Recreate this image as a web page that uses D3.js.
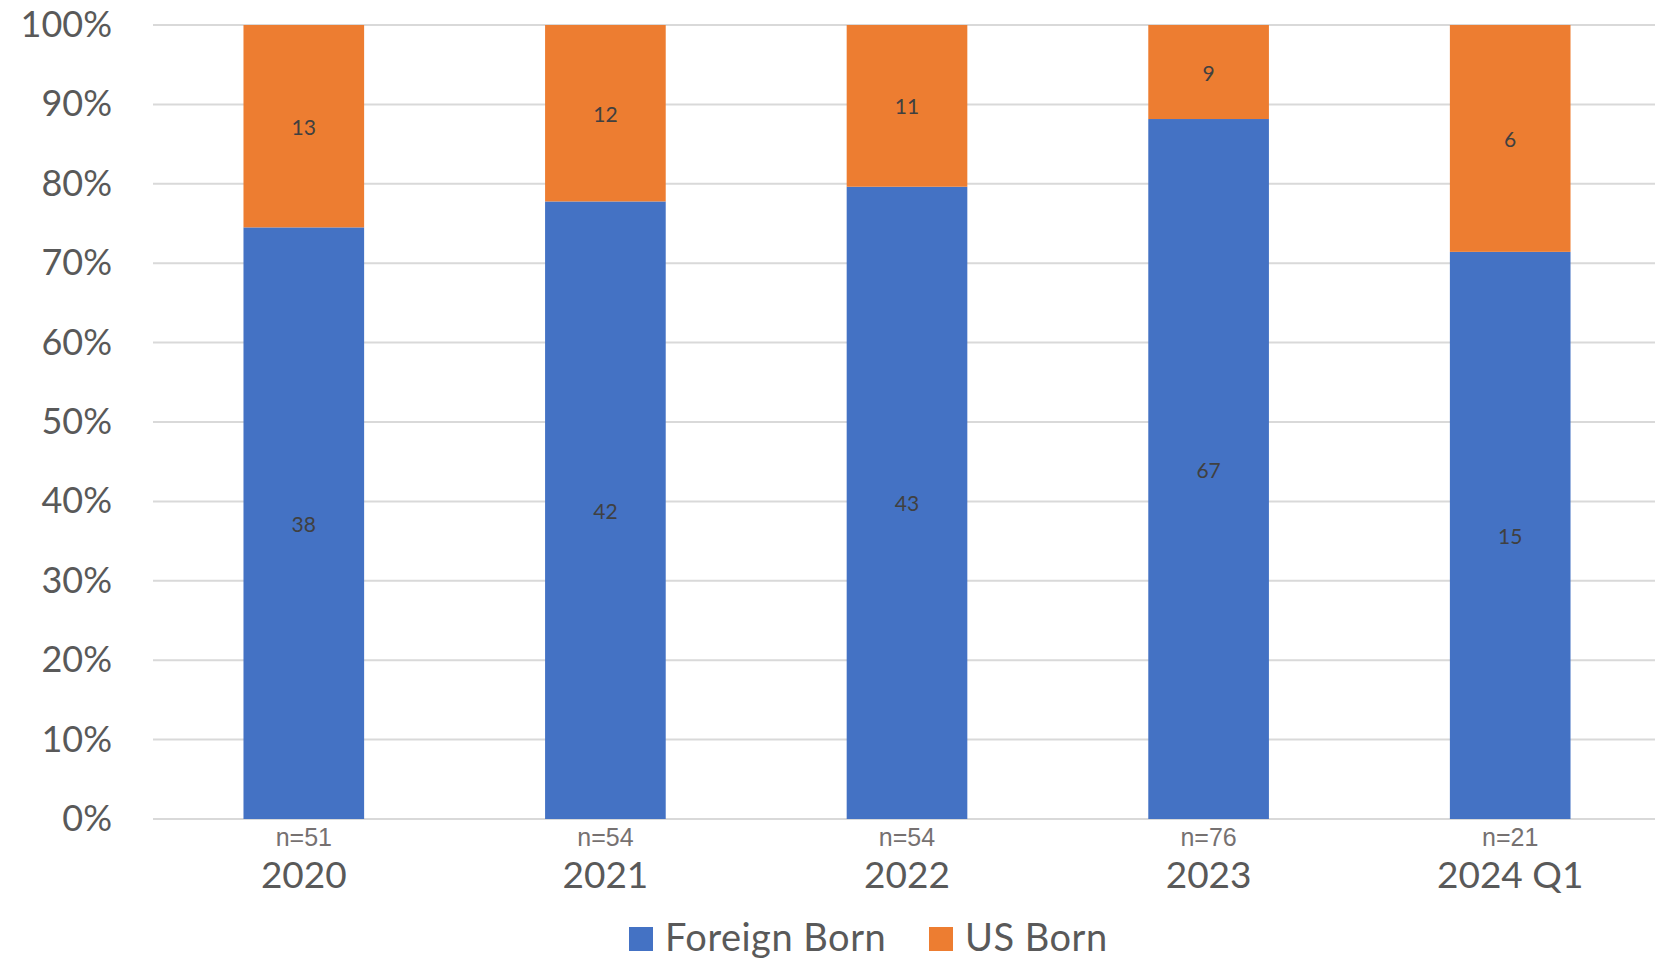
<!DOCTYPE html>
<html>
<head>
<meta charset="utf-8">
<script src="https://cdn.jsdelivr.net/npm/d3@7"></script>
<style>
  html, body { margin: 0; padding: 0; background: #fff; }
  svg { display: block; }
</style>
</head>
<body>
<svg id="chart" width="1655" height="961"></svg>
<script>
const categories = ["2020", "2021", "2022", "2023", "2024 Q1"];
const foreignBorn = [38, 42, 43, 67, 15];
const usBorn = [13, 12, 11, 9, 6];
const sampleLabels = ["n=51", "n=54", "n=54", "n=76", "n=21"];
const yTicks = [0, 0.1, 0.2, 0.3, 0.4, 0.5, 0.6, 0.7, 0.8, 0.9, 1.0];
const seriesNames = ["Foreign Born", "US Born"];
const colors = ["#4472C4", "#ED7D31"];

const svg = d3.select("#chart");
const font = "Lato, 'Open Sans', sans-serif";

const x = d3.scaleBand().domain(categories).range([153, 1661]).paddingInner(0.6).paddingOuter(0.3);
const y = d3.scaleLinear().domain([0, 1]).range([819, 25]);

// gridlines
svg.append("g").selectAll("line").data(yTicks).join("line")
  .attr("x1", 153).attr("x2", 1655)
  .attr("y1", d => y(d)).attr("y2", d => y(d))
  .attr("stroke", "#d9d9d9").attr("stroke-width", 2);

// y axis labels
const yAxis = d3.axisLeft(y).tickValues(yTicks).tickFormat(d3.format(".0%")).tickSize(0).tickPadding(0);
const yg = svg.append("g").attr("transform", "translate(112,0)").call(yAxis);
yg.select(".domain").remove();
yg.selectAll("text").attr("font-family", font).attr("font-size", 36).attr("fill", "#595959");

// stacked data
const rows = categories.map((c, i) => ({cat: c, fb: foreignBorn[i], us: usBorn[i]}));
const stack = d3.stack().keys(["fb", "us"]).offset(d3.stackOffsetExpand);
const series = stack(rows);

series.forEach((s, si) => {
  const g = svg.append("g");
  g.selectAll("rect").data(s).join("rect")
    .attr("x", d => x(d.data.cat))
    .attr("width", x.bandwidth())
    .attr("y", d => y(d[1]))
    .attr("height", d => y(d[0]) - y(d[1]))
    .attr("fill", colors[si]);
  g.selectAll("text").data(s).join("text")
    .attr("x", d => x(d.data.cat) + x.bandwidth() / 2)
    .attr("y", d => (y(d[0]) + y(d[1])) / 2)
    .attr("text-anchor", "middle").attr("dominant-baseline", "central")
    .attr("font-family", font).attr("font-size", 21).attr("fill", "#404040")
    .text(d => si === 0 ? d.data.fb : d.data.us);
});

// x labels
const xg = svg.append("g");
xg.selectAll("text.n").data(categories).join("text").attr("class", "n")
  .attr("x", d => x(d) + x.bandwidth() / 2).attr("y", 846)
  .attr("text-anchor", "middle")
  .attr("font-family", "'Liberation Sans', Arial, sans-serif").attr("font-size", 25)
  .attr("fill", "#767171")
  .text((d, i) => sampleLabels[i]);
xg.selectAll("text.cat").data(categories).join("text").attr("class", "cat")
  .attr("x", d => x(d) + x.bandwidth() / 2).attr("y", 888)
  .attr("text-anchor", "middle")
  .attr("font-family", font).attr("font-size", 37)
  .attr("fill", "#595959")
  .text(d => d);

// legend
const legendX = [629, 929];
const lg = svg.append("g");
seriesNames.forEach((name, i) => {
  lg.append("rect").attr("x", legendX[i]).attr("y", 927).attr("width", 24).attr("height", 24).attr("fill", colors[i]);
  lg.append("text").attr("x", legendX[i] + 36).attr("y", 951)
    .attr("font-family", font).attr("font-size", 38).attr("letter-spacing", 0.5)
    .attr("fill", "#595959").text(name);
});
</script>
</body>
</html>
